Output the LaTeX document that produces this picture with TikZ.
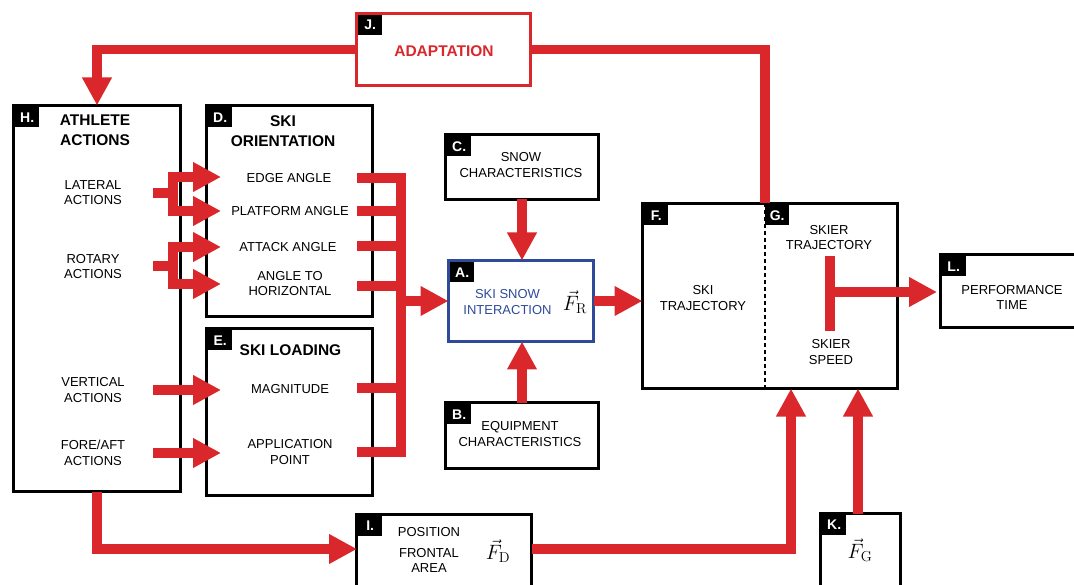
\documentclass[tikz,border=0pt]{standalone}
\usepackage[no-math]{fontspec}
\setmainfont{Liberation Sans}
\usetikzlibrary{arrows.meta}
\definecolor{ared}{HTML}{D9272B}
\definecolor{ablue}{HTML}{2E4A98}
\begin{document}
\begin{tikzpicture}[x=1pt,y=-1pt,
  box/.style={draw=black,line width=3pt,inner sep=0pt,outer sep=0pt},
  tagbox/.style={fill=black,text=white,font=\bfseries\fontsize{14}{14}\selectfont,minimum width=24pt,minimum height=20pt,inner sep=0pt,anchor=north west},
  txt/.style={font=\fontsize{13}{15.5}\selectfont,align=center,inner sep=0pt},
  head/.style={font=\bfseries\fontsize{15.5}{20}\selectfont,align=center,inner sep=0pt},
  vecf/.style={font=\fontsize{21}{24}\selectfont,inner sep=0pt},
  flow/.style={draw=ared,line width=9.5pt,line join=miter},
  flowarrow/.style={flow,-{Triangle[length=28pt,width=28pt]}}]
\useasboundingbox (0,0) rectangle (1074,585);

% boxes
\node[box,minimum width=167pt,minimum height=386pt] (H) at (97,298.5) {};
\node[box,minimum width=166pt,minimum height=211pt] (D) at (289.5,211) {};
\node[box,minimum width=166pt,minimum height=167pt] (E) at (289.5,412) {};
\node[box,minimum width=153pt,minimum height=65pt] (C) at (522,167) {};
\node[box,draw=ablue,minimum width=145pt,minimum height=81pt] (A) at (521,301) {};
\node[box,minimum width=153pt,minimum height=66pt] (B) at (522,435.5) {};
\node[box,minimum width=255pt,minimum height=185pt] (FG) at (770,296) {};
\node[box,minimum width=142pt,minimum height=73pt] (L) at (1011,291) {};
\node[box,draw=ared,minimum width=174pt,minimum height=72pt] (J) at (443.5,49.5) {};
\node[box,minimum width=175pt,minimum height=90pt] (I) at (444,559) {};
\node[box,minimum width=80pt,minimum height=90pt] (K) at (860.5,558) {};

% divider F | G
\coordinate (gdivT) at (765,203.5);
\coordinate (gdivB) at (765,388.5);
\draw[line width=1.2pt,dash pattern=on 4pt off 3pt] (gdivT) -- (gdivB);

% tags
\node[tagbox] (tH) at ([shift={(1.5,1.5)}]H.north west) {H.};
\node[tagbox] (tD) at ([shift={(1.5,1.5)}]D.north west) {D.};
\node[tagbox] (tE) at ([shift={(1.5,1.5)}]E.north west) {E.};
\node[tagbox] (tC) at ([shift={(1.5,1.5)}]C.north west) {C.};
\node[tagbox] (tA) at ([shift={(1.5,1.5)}]A.north west) {A.};
\node[tagbox] (tB) at ([shift={(1.5,1.5)}]B.north west) {B.};
\node[tagbox] (tF) at ([shift={(1.5,1.5)}]FG.north west) {F.};
\node[tagbox] (tG) at ([shift={(0,1.5)}]gdivT) {G.};
\node[tagbox] (tL) at ([shift={(1.5,1.5)}]L.north west) {L.};
\node[tagbox] (tJ) at ([shift={(1.5,1.5)}]J.north west) {J.};
\node[tagbox] (tI) at ([shift={(1.5,1.5)}]I.north west) {I.};
\node[tagbox] (tK) at ([shift={(1.5,1.5)}]K.north west) {K.};

% texts
\node[head] (hH) at (95,130) {ATHLETE\\ACTIONS};
\node[head] (hD) at (283,131) {SKI\\ORIENTATION};
\node[head] (hE) at (290.5,350) {SKI LOADING};
\node[head,text=ared] (hJ) at (444,51) {ADAPTATION};

\node[txt] (lat) at (93,192.5) {LATERAL\\ACTIONS};
\node[txt] (rot) at (93,266.5) {ROTARY\\ACTIONS};
\node[txt] (ver) at (93,390) {VERTICAL\\ACTIONS};
\node[txt] (fa) at (93,453) {FORE/AFT\\ACTIONS};

\node[txt] (edge) at (289,178) {EDGE ANGLE};
\node[txt] (plat) at (290,211) {PLATFORM ANGLE};
\node[txt] (att) at (288,247) {ATTACK ANGLE};
\node[txt] (hor) at (290,283.5) {ANGLE TO\\HORIZONTAL};
\node[txt] (mag) at (290,389) {MAGNITUDE};
\node[txt] (app) at (290,452) {APPLICATION\\POINT};

\node[txt] (snow) at (521,165) {SNOW\\CHARACTERISTICS};
\node[txt] (equip) at (520,434) {EQUIPMENT\\CHARACTERISTICS};
\node[txt,text=ablue] (ssi) at (507.5,302) {SKI SNOW\\INTERACTION};
\node[vecf] (FR) at (575,302) {$\vec{F}_{\mathrm{R}}$};

\node[txt] (skitr) at (703,298) {SKI\\TRAJECTORY};
\node[txt] (sktr) at (829,237.5) {SKIER\\TRAJECTORY};
\node[txt] (sksp) at (831,352) {SKIER\\SPEED};
\node[txt] (perf) at (1012,297.5) {PERFORMANCE\\TIME};

\node[txt] (pos) at (429,532) {POSITION};
\node[txt] (fra) at (429,560.5) {FRONTAL\\AREA};
\node[vecf] (FD) at (498,551) {$\vec{F}_{\mathrm{D}}$};
\node[vecf] (FGv) at (860,550) {$\vec{F}_{\mathrm{G}}$};

% coordinates for connectors
\coordinate (latS) at (153,193);
\coordinate (latF) at (173,193);
\coordinate (tEdge) at (221,177);
\coordinate (tPlat) at (221,211);
\coordinate (rotS) at (153,266);
\coordinate (rotF) at (173,266);
\coordinate (tAtt) at (221,247);
\coordinate (tHor) at (221,284);
\coordinate (verS) at (153,390);
\coordinate (tMag) at (221,390);
\coordinate (faS) at (153,453);
\coordinate (tApp) at (221,453);

\coordinate (oEdge) at (357,178);
\coordinate (oPlat) at (357,211);
\coordinate (oAtt) at (357,246);
\coordinate (oHor) at (357,286);
\coordinate (oMag) at (357,388);
\coordinate (oApp) at (357,452);
\coordinate (busT) at (401,178);
\coordinate (busB) at (401,452);
\coordinate (busM) at (401,301);

\coordinate (gbT) at (830,256);
\coordinate (gbB) at (830,331);
\coordinate (gbM) at (830,292);

\coordinate (iIn) at (357,549);
\coordinate (iOut) at (531.5,549);
\coordinate (fgIn1) at (791,388.5);
\coordinate (kOut) at (858,513.5);

% red connectors
\draw[flowarrow] (J.west) -| (H.north);
\draw[flow] (J.east) -| (gdivT);

\draw[flow] (latS) -- (latF);
\draw[flowarrow] (latF) |- (tEdge);
\draw[flowarrow] (latF) |- (tPlat);
\draw[flow] (rotS) -- (rotF);
\draw[flowarrow] (rotF) |- (tAtt);
\draw[flowarrow] (rotF) |- (tHor);
\draw[flowarrow] (verS) -- (tMag);
\draw[flowarrow] (faS) -- (tApp);

\draw[flow] (oEdge) -- (busT) -- (busB) -- (oApp);
\draw[flow] (oPlat) -- (oPlat -| busT);
\draw[flow] (oAtt) -- (oAtt -| busT);
\draw[flow] (oHor) -- (oHor -| busT);
\draw[flow] (oMag) -- (oMag -| busT);
\draw[flowarrow] (busM) -- (A.west);

\draw[flowarrow] (C.south) -- (C.south |- A.north);
\draw[flowarrow] (B.north) -- (B.north |- A.south);
\draw[flowarrow] (A.east) -- (A.east -| FG.west);

\draw[flow] (gbT) -- (gbB);
\draw[flowarrow,shorten >=3pt] (gbM) -- (gbM -| L.west);

\draw[flowarrow] (H.south) |- (iIn);
\draw[flowarrow] (iOut) -| (fgIn1);
\draw[flowarrow] (kOut) -- (kOut |- FG.south);
\end{tikzpicture}
\end{document}
